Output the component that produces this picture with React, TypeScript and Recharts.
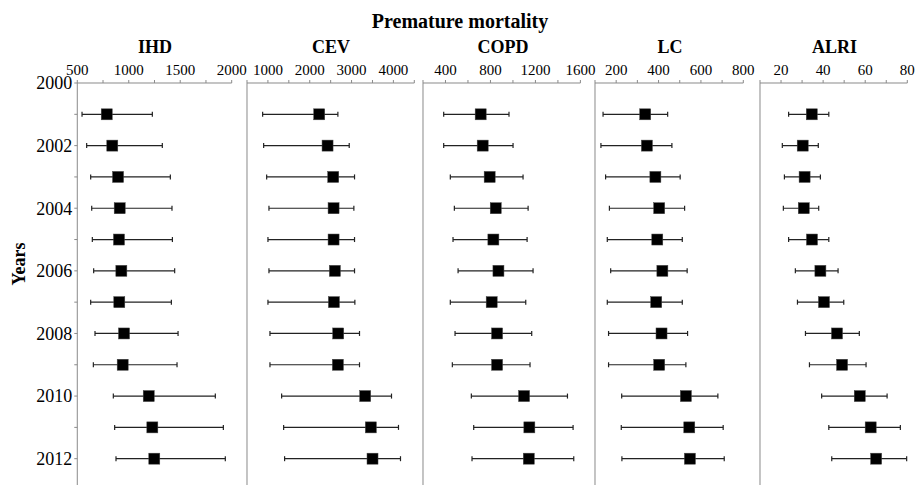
import React from "react"
import { ScatterChart, Scatter, XAxis, YAxis, ErrorBar } from "recharts"

const years = [2001, 2002, 2003, 2004, 2005, 2006, 2007, 2008, 2009, 2010, 2011, 2012]
const yearTicks = [2000, 2001, 2002, 2003, 2004, 2005, 2006, 2007, 2008, 2009, 2010, 2011, 2012]

const ihdMean = [786, 840, 896, 912, 905, 928, 908, 954, 941, 1194, 1229, 1248]
const ihdLow = [546, 591, 630, 640, 646, 659, 630, 672, 656, 850, 863, 876]
const ihdHigh = [1229, 1326, 1404, 1420, 1424, 1446, 1414, 1479, 1469, 1841, 1919, 1938]
const ihdTicks = [500, 750, 1000, 1250, 1500, 1750, 2000]
const ihdLabels = [500, 1000, 1500, 2000]

const cevMean = [2227, 2426, 2562, 2570, 2570, 2601, 2578, 2681, 2673, 3326, 3461, 3501]
const cevLow = [874, 898, 970, 1025, 1001, 1025, 1001, 1049, 1049, 1328, 1376, 1399]
const cevHigh = [2673, 2944, 3071, 3055, 3071, 3071, 3079, 3190, 3190, 3955, 4122, 4170]
const cevTicks = [500, 1000, 1500, 2000, 2500, 3000, 3500, 4000, 4500]
const cevLabels = [1000, 2000, 3000, 4000]

const copdMean = [713, 731, 793, 847, 826, 871, 811, 859, 859, 1099, 1146, 1141]
const copdLow = [384, 384, 443, 479, 467, 512, 443, 485, 461, 630, 651, 636]
const copdHigh = [965, 1001, 1090, 1135, 1126, 1179, 1114, 1167, 1152, 1485, 1535, 1541]
const copdTicks = [200, 400, 600, 800, 1000, 1200, 1400, 1600]
const copdLabels = [400, 800, 1200, 1600]

const lcMean = [337, 345, 385, 403, 394, 418, 389, 414, 403, 529, 545, 548]
const lcLow = [138, 128, 150, 168, 158, 174, 158, 164, 164, 226, 224, 227]
const lcHigh = [443, 463, 502, 523, 512, 535, 512, 537, 529, 680, 705, 710]
const lcTicks = [100, 200, 300, 400, 500, 600, 700, 800]
const lcLabels = [200, 400, 600, 800]

const alriMean = [34.6, 30.3, 31.2, 30.8, 34.7, 38.7, 40.4, 46.6, 49.0, 57.4, 62.6, 65.2]
const alriLow = [23.6, 20.6, 21.6, 21.1, 23.6, 26.8, 27.8, 31.6, 33.5, 39.3, 42.7, 44.1]
const alriHigh = [42.7, 37.7, 38.7, 37.9, 42.7, 47.1, 49.8, 57.2, 60.4, 70.4, 76.7, 79.7]
const alriTicks = [10, 20, 30, 40, 50, 60, 70, 80]
const alriLabels = [20, 40, 60, 80]

const FONT = "Liberation Serif"
const AXIS = "#8a8a8a"

type PanelProps = {
  title: string
  mean: number[]
  low: number[]
  high: number[]
  ticks: number[]
  labels: number[]
  plotLeft: number
  plotWidth: number
  first?: boolean
}

const Square = (props: any) => {
  const { cx, cy } = props
  if (cx == null || cy == null) return null
  return <rect x={cx - 5.5} y={cy - 5.5} width={11} height={11} fill="#000" stroke="#444" strokeWidth={0.5} />
}

function Panel({ title, mean, low, high, ticks, labels, plotLeft, plotWidth, first }: PanelProps) {
  const data = years.map((y, i) => ({ year: y, value: mean[i], err: [mean[i] - low[i], high[i] - mean[i]] }))
  const yw = first ? 77.3 : 10
  const rightPad = 24
  return (
    <div style={{ position: "absolute", left: plotLeft - yw, top: 0 }}>
      <ScatterChart
        width={yw + plotWidth + rightPad}
        height={490}
        margin={{ top: 52, right: rightPad, bottom: 0, left: 0 }}
        style={{ fontFamily: FONT }}
      >
        <XAxis
          type="number"
          dataKey="value"
          orientation="top"
          domain={[ticks[0], ticks[ticks.length - 1]]}
          ticks={ticks}
          interval={0}
          height={31}
          tickSize={3}
          tickMargin={5}
          stroke={AXIS}
          tick={{ fill: "#000", fontSize: 15, fontFamily: FONT }}
          tickFormatter={(v: number) => (labels.includes(v) ? String(v) : "")}
          allowDataOverflow
        />
        <YAxis
          type="number"
          dataKey="year"
          reversed
          domain={[2000, 2013]}
          ticks={yearTicks}
          interval={0}
          width={yw}
          tickSize={3}
          tickMargin={2}
          stroke={AXIS}
          tick={first ? { fill: "#000", fontSize: 18, fontFamily: FONT } : false}
          tickFormatter={(v: number) => (v % 2 === 0 ? String(v) : "")}
          allowDataOverflow
        />
        <Scatter name={title} data={data} shape={<Square />} isAnimationActive={false}>
          <ErrorBar dataKey="err" direction="x" width={2.5} strokeWidth={1.2} stroke="#222" />
        </Scatter>
      </ScatterChart>
    </div>
  )
}

export default function App() {
  return (
    <div style={{ position: "fixed", left: 0, top: 0, width: 917, height: 485, overflow: "hidden", background: "#fff", fontFamily: FONT }}>
      <Panel title="IHD" mean={ihdMean} low={ihdLow} high={ihdHigh} ticks={ihdTicks} labels={ihdLabels} plotLeft={77.3} plotWidth={154.4} first />
      <Panel title="CEV" mean={cevMean} low={cevLow} high={cevHigh} ticks={cevTicks} labels={cevLabels} plotLeft={246.7} plotWidth={167.3} />
      <Panel title="COPD" mean={copdMean} low={copdLow} high={copdHigh} ticks={copdTicks} labels={copdLabels} plotLeft={423.3} plotWidth={157.4} />
      <Panel title="LC" mean={lcMean} low={lcLow} high={lcHigh} ticks={lcTicks} labels={lcLabels} plotLeft={595} plotWidth={148.3} />
      <Panel title="ALRI" mean={alriMean} low={alriLow} high={alriHigh} ticks={alriTicks} labels={alriLabels} plotLeft={760} plotWidth={147.3} />
      <svg width={917} height={485} style={{ position: "absolute", left: 0, top: 0, pointerEvents: "none" }}>
        <g fontFamily={FONT} fontWeight="bold" fill="#000">
          <text x={460} y={28} fontSize={20} textAnchor="middle">Premature mortality</text>
          <text x={155} y={53} fontSize={18} textAnchor="middle">IHD</text>
          <text x={331} y={53} fontSize={18} textAnchor="middle">CEV</text>
          <text x={503} y={53} fontSize={18} textAnchor="middle">COPD</text>
          <text x={670} y={53} fontSize={18} textAnchor="middle">LC</text>
          <text x={834.5} y={53} fontSize={18} textAnchor="middle">ALRI</text>
          <text x={0} y={0} fontSize={18} textAnchor="middle" transform="translate(24.5,264) rotate(-90)">Years</text>
        </g>
      </svg>
    </div>
  )
}
